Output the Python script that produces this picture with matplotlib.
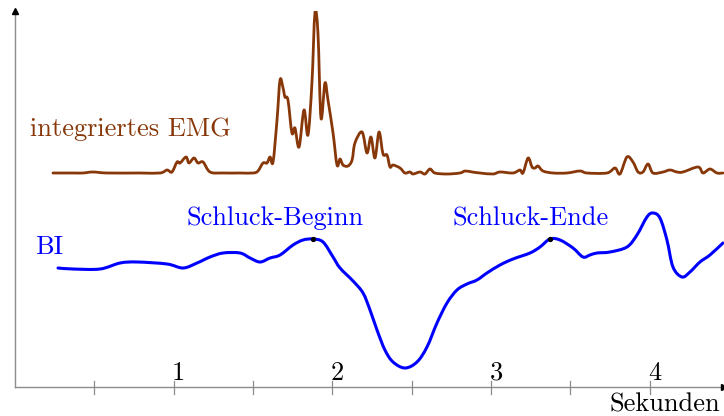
import numpy as np
import matplotlib
matplotlib.use("Agg")
import matplotlib.pyplot as plt
from matplotlib.path import Path
from matplotlib.patches import PathPatch

# ---- data (time in seconds, signal heights in arbitrary units) ----
emg_t = [0.239, 0.365, 0.428, 0.491, 0.580, 0.788, 0.914, 0.958, 0.989, 1.021,
         1.040, 1.078, 1.096, 1.128, 1.153, 1.185, 1.229, 1.311, 1.418, 1.500,
         1.531, 1.563, 1.588, 1.607, 1.626, 1.651, 1.670, 1.689, 1.701, 1.720,
         1.745, 1.764, 1.790, 1.821, 1.846, 1.871, 1.890, 1.909, 1.928, 1.953,
         1.972, 2.004, 2.029, 2.048, 2.067, 2.098, 2.124, 2.142, 2.187, 2.218,
         2.243, 2.268, 2.294, 2.319, 2.344, 2.363, 2.382, 2.426, 2.457, 2.489,
         2.508, 2.552, 2.583, 2.615, 2.646, 2.722, 2.804, 2.836, 2.880, 2.930,
         3.012, 3.056, 3.138, 3.182, 3.201, 3.233, 3.258, 3.277, 3.296, 3.327,
         3.390, 3.478, 3.560, 3.604, 3.730, 3.781, 3.812, 3.856, 3.894, 3.926,
         3.957, 3.989, 4.020, 4.083, 4.127, 4.171, 4.209, 4.304, 4.335, 4.379,
         4.423, 4.461]
emg_v = [214, 214, 214, 215, 214, 214, 214, 217, 215, 225,
         224, 230, 224, 229, 224, 225, 215, 214, 214, 214,
         216, 224, 224, 230, 225, 267, 307, 299, 290, 287,
         254, 259, 240, 277, 252, 304, 374, 354, 269, 304,
         287, 254, 222, 228, 222, 221, 227, 244, 255, 234,
         250, 229, 255, 233, 232, 220, 222, 219, 214, 215,
         213, 215, 213, 218, 214, 213, 214, 216, 215, 214,
         213, 215, 214, 217, 214, 229, 220, 219, 221, 216,
         214, 214, 216, 214, 214, 219, 213, 230, 225, 215,
         215, 223, 214, 215, 217, 215, 215, 220, 214, 218,
         214, 214]

bi_t = [0.271, 0.365, 0.536, 0.662, 0.769, 0.958, 1.059, 1.147, 1.229, 1.311,
        1.418, 1.481, 1.544, 1.607, 1.670, 1.752, 1.815, 1.878, 1.941, 2.004,
        2.048, 2.130, 2.193, 2.237, 2.281, 2.331, 2.382, 2.457, 2.533, 2.596,
        2.659, 2.722, 2.785, 2.848, 2.911, 2.974, 3.056, 3.138, 3.245, 3.308,
        3.371, 3.434, 3.516, 3.579, 3.623, 3.667, 3.749, 3.856, 3.919, 3.982,
        4.020, 4.064, 4.108, 4.146, 4.203, 4.253, 4.316, 4.379, 4.461]
bi_v = [119, 118, 118, 124, 125, 123, 119, 124, 130, 134,
        134, 129, 125, 129, 132, 142, 147, 148, 145, 130,
        119, 106, 94, 77, 57, 37, 25, 19, 25, 40,
        64, 84, 97, 103, 107, 114, 122, 128, 134, 140,
        148, 147, 139, 130, 132, 134, 135, 140, 152, 170,
        174, 169, 147, 120, 110, 115, 125, 132, 144]

marker_t = [1.878, 3.371]          # Schluck-Beginn, Schluck-Ende
tick_pos = [0.5, 1.0, 1.5, 2.0, 2.5, 3.0, 3.5, 4.0]
tick_labels = {1.0: "1", 2.0: "2", 3.0: "3", 4.0: "4"}

BROWN = "#873708"
BLUE = "#0000FF"
AXC = "#8c8c8c"
FONT = "cmr10"
FS = 19


def smooth_path(xs, ys):
    """Curve through the points drawn as cubic Bezier segments (Catmull-Rom)."""
    p = np.column_stack([xs, ys]).astype(float)
    n = len(p)
    verts = [p[0]]
    codes = [Path.MOVETO]
    for i in range(n - 1):
        p0 = p[i - 1] if i > 0 else p[i]
        p1, p2 = p[i], p[i + 1]
        p3 = p[i + 2] if i + 2 < n else p[i + 1]
        c1 = p1 + (p2 - p0) / 6.0
        c2 = p2 - (p3 - p1) / 6.0
        verts += [c1, c2, p2]
        codes += [Path.CURVE4] * 3
    return Path(verts, codes)


W, H = 724, 416
fig = plt.figure(figsize=(W / 100, H / 100), dpi=100)
ax = fig.add_axes([15 / W, 29 / H, (W - 15) / W, (387 - 11) / H])
ax.set_xlim(0, (W - 15) / 158.7)
ax.set_ylim(0, 376)
ax.axis("off")

# axes with arrows
ax.plot([0, 1], [0, 0], transform=ax.transAxes, color=AXC, lw=1.0, clip_on=False)
ax.plot([0, 0], [0, 1], transform=ax.transAxes, color=AXC, lw=1.0, clip_on=False)
ax.plot([1], [0], transform=ax.transAxes, marker=">", color="black", ms=4, clip_on=False)
ax.plot([0], [1], transform=ax.transAxes, marker="^", color="black", ms=4, clip_on=False)

# ticks
for tp in tick_pos:
    ax.plot([tp, tp], [-6.5, 6.5], color=AXC, lw=0.9, clip_on=False)
    if tp in tick_labels:
        ax.annotate(tick_labels[tp], xy=(tp, 0), xytext=(5, 7), textcoords="offset pixels",
                    ha="center", va="baseline", fontsize=FS, family=FONT, color="black")

# curves
ax.add_patch(PathPatch(smooth_path(emg_t, emg_v), facecolor="none", edgecolor=BROWN,
                       lw=2.0, joinstyle="round", capstyle="round"))
ax.add_patch(PathPatch(smooth_path(bi_t, bi_v), facecolor="none", edgecolor=BLUE,
                       lw=2.2, joinstyle="round", capstyle="round"))
mv = [bi_v[bi_t.index(m)] for m in marker_t]
ax.plot(marker_t, mv, "o", color="black", ms=2.8, zorder=5)

# labels
ax.text(0.095, 251, "integriertes EMG", fontsize=FS, family=FONT, color=BROWN, va="baseline", ha="left")
ax.text(0.126, 133, "BI", fontsize=FS, family=FONT, color=BLUE, va="baseline", ha="left")
ax.text(1.638, 162, "Schluck-Beginn", fontsize=FS, family=FONT, color=BLUE, va="baseline", ha="center")
ax.text(3.248, 162, "Schluck-Ende", fontsize=FS, family=FONT, color=BLUE, va="baseline", ha="center")
ax.text(4.442, -24, "Sekunden", fontsize=FS, family=FONT, color="black", va="baseline", ha="right",
        clip_on=False)

fig.savefig("out.png", dpi=100)
